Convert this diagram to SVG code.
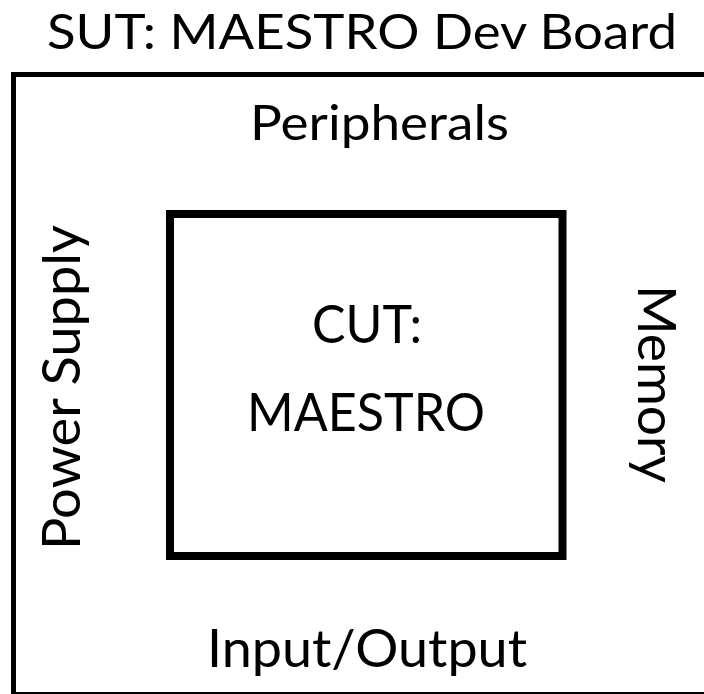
<svg xmlns="http://www.w3.org/2000/svg" width="704" height="694" viewBox="0 0 704 694">
  <style>
    .lbl { font-family: Lato, "Open Sans", "Liberation Sans", sans-serif; fill: #000; }
    .big { font-size: 53px; }
    .frame { fill: none; stroke: #000; }
  </style>
  <rect x="0" y="0" width="704" height="694" fill="#fff"/>

  <!-- System under test: outer board boundary -->
  <g id="sut">
    <text class="lbl" x="47" y="49" font-size="49" textLength="630" lengthAdjust="spacingAndGlyphs">SUT: MAESTRO Dev Board</text>
    <rect class="frame" x="13.5" y="74.5" width="720" height="620" stroke-width="5"/>
  </g>

  <!-- Board-level blocks around the core -->
  <g id="peripherals">
    <text class="lbl" x="250" y="140" font-size="48" textLength="259" lengthAdjust="spacingAndGlyphs">Peripherals</text>
  </g>
  <g id="power-supply">
    <text class="lbl big" transform="translate(80,550) rotate(-90)" x="0" y="0" textLength="325" lengthAdjust="spacingAndGlyphs">Power Supply</text>
  </g>
  <g id="memory">
    <text class="lbl big" transform="translate(638,285) rotate(90)" x="0" y="0" textLength="198" lengthAdjust="spacingAndGlyphs">Memory</text>
  </g>
  <g id="input-output">
    <text class="lbl big" x="207" y="667" textLength="320" lengthAdjust="spacingAndGlyphs">Input/Output</text>
  </g>

  <!-- Component under test -->
  <g id="cut">
    <rect class="frame" x="170" y="214" width="392.5" height="342" stroke-width="8"/>
    <text class="lbl big" x="312" y="343" textLength="110" lengthAdjust="spacingAndGlyphs">CUT:</text>
    <text class="lbl big" x="247" y="431" textLength="238" lengthAdjust="spacingAndGlyphs">MAESTRO</text>
  </g>
</svg>
